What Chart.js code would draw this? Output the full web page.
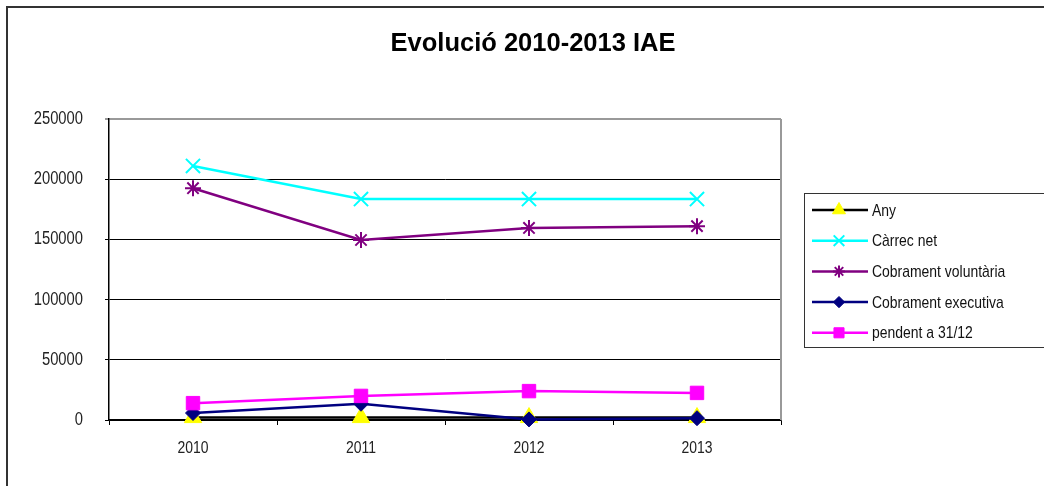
<!DOCTYPE html>
<html lang="ca">
<head>
<meta charset="UTF-8">
<title>Evolució 2010-2013 IAE</title>
<script src="https://cdn.jsdelivr.net/npm/chart.js"></script>
<style>
html, body { margin: 0; padding: 0; background: #fff; }
.wrap { position: relative; width: 1044px; height: 486px; overflow: hidden; }
canvas { display: block; }
</style>
</head>
<body>
<div class="wrap">
  <canvas id="grafic" width="1044" height="486"></canvas>
</div>
<script>
// dades llegides del gràfic
var anys = ["2010", "2011", "2012", "2013"];
var any = [2010, 2011, 2012, 2013];
var carrecNet = [211000, 183500, 183500, 183500];
var cobramentVoluntaria = [192500, 149500, 159500, 161000];
var cobramentExecutiva = [5800, 13500, 500, 1500];
var pendent = [14000, 20000, 24000, 22500];
var marquesY = [0, 50000, 100000, 150000, 200000, 250000];

var lletra = "'Liberation Sans', Arial, sans-serif";
var estret = 0.82; // Arial Narrow ~ Arial al 82% d'amplada

// les etiquetes dels eixos en lletra estreta: escala horitzontal a cada etiqueta
function etiquetesEstretes(scale) {
  if (scale._estreta) return;
  scale._estreta = true;
  var orig = scale.drawLabels;
  scale.drawLabels = function(area) {
    var c = this.ctx;
    var rot = c.rotate;
    c.rotate = function(a) { rot.call(c, a); c.scale(estret, 1); };
    try { orig.call(this, area); } finally { c.rotate = rot; }
  };
}

// títol, vores i llegenda a mà (com el gràfic d'Excel)
var decoracio = {
  id: "decoracio",
  afterDraw: function(chart) {
    var ctx = chart.ctx;
    var area = chart.chartArea;
    ctx.save();

    // vora exterior
    ctx.strokeStyle = "#333";
    ctx.lineWidth = 2;
    ctx.strokeRect(7, 7, 1100, 600);

    // vora dreta de l'àrea de traçat
    ctx.strokeStyle = "#999";
    ctx.lineWidth = 2;
    ctx.beginPath();
    ctx.moveTo(area.right, area.top);
    ctx.lineTo(area.right, area.bottom);
    ctx.stroke();

    // títol
    ctx.fillStyle = "#000";
    ctx.font = "bold 25.5px " + lletra;
    ctx.textAlign = "center";
    ctx.textBaseline = "alphabetic";
    ctx.fillText("Evolució 2010-2013 IAE", 533, 51);

    // llegenda
    ctx.strokeStyle = "#333";
    ctx.lineWidth = 1;
    ctx.fillStyle = "#fff";
    ctx.fillRect(804.5, 193.5, 300, 154);
    ctx.strokeRect(804.5, 193.5, 300, 154);

    chart.data.datasets.forEach(function(ds, i) {
      var y = 210 + i * 30.7;
      ctx.strokeStyle = ds.borderColor;
      ctx.lineWidth = 2.5;
      ctx.beginPath();
      ctx.moveTo(812, y);
      ctx.lineTo(868, y);
      ctx.stroke();
      ctx.fillStyle = ds.pointBackgroundColor;
      ctx.strokeStyle = ds.pointBorderColor;
      ctx.lineWidth = ds.pointBorderWidth;
      Chart.helpers.drawPoint(ctx, {
        pointStyle: ds.pointStyle,
        radius: ds.pointRadius * 0.75,
        borderWidth: ds.pointBorderWidth,
        rotation: 0
      }, 839, y);

      ctx.save();
      ctx.translate(872, y + 1);
      ctx.scale(estret, 1);
      ctx.font = "17px " + lletra;
      ctx.textAlign = "left";
      ctx.textBaseline = "middle";
      ctx.fillStyle = "#111";
      ctx.fillText(ds.label, 0, 0);
      ctx.restore();
    });

    ctx.restore();
  }
};

var ctx = document.getElementById("grafic").getContext("2d");
var grafic = new Chart(ctx, {
  type: "line",
  data: {
    labels: anys,
    datasets: [{
      label: "Any",
      data: any,
      borderColor: "#000",
      borderWidth: 2.5,
      pointStyle: "triangle",
      pointRadius: 10,
      pointBackgroundColor: "#ffff00",
      pointBorderColor: "#ffff00",
      pointBorderWidth: 1,
      order: 4
    }, {
      label: "Càrrec net",
      data: carrecNet,
      borderColor: "#00ffff",
      borderWidth: 2.5,
      pointStyle: "crossRot",
      pointRadius: 10,
      pointBackgroundColor: "#00ffff",
      pointBorderColor: "#00ffff",
      pointBorderWidth: 2,
      order: 3
    }, {
      label: "Cobrament voluntària",
      data: cobramentVoluntaria,
      borderColor: "#800080",
      borderWidth: 2.5,
      pointStyle: "star",
      pointRadius: 8,
      pointBackgroundColor: "#800080",
      pointBorderColor: "#800080",
      pointBorderWidth: 2,
      order: 2
    }, {
      label: "Cobrament executiva",
      data: cobramentExecutiva,
      borderColor: "#000080",
      borderWidth: 2.5,
      pointStyle: "rectRot",
      pointRadius: 7.5,
      pointBackgroundColor: "#000080",
      pointBorderColor: "#000080",
      pointBorderWidth: 1,
      order: 1
    }, {
      label: "pendent a 31/12",
      data: pendent,
      borderColor: "#ff00ff",
      borderWidth: 2.5,
      pointStyle: "rect",
      pointRadius: 9.5,
      pointBackgroundColor: "#ff00ff",
      pointBorderColor: "#ff00ff",
      pointBorderWidth: 1,
      order: 0
    }]
  },
  options: {
    responsive: false,
    animation: false,
    clip: false,
    elements: { line: { tension: 0 } },
    layout: { padding: { left: 0, top: 119, right: 263, bottom: 0 } },
    plugins: {
      legend: { display: false },
      title: { display: false },
      tooltip: { enabled: false }
    },
    scales: {
      x: {
        offset: true,
        afterFit: function(scale) { scale.height = 66; etiquetesEstretes(scale); },
        grid: {
          offset: true,
          drawOnChartArea: false,
          drawTicks: true,
          tickLength: 5,
          color: "#000",
          lineWidth: 1
        },
        border: { display: true, color: "#000", width: 1.5 },
        ticks: {
          padding: 13,
          color: "#222",
          font: { family: lletra, size: 17 }
        }
      },
      y: {
        min: 0,
        max: 250000,
        afterFit: function(scale) { scale.width = 109; etiquetesEstretes(scale); },
        afterBuildTicks: function(scale) {
          scale.ticks = marquesY.map(function(v) { return { value: v }; });
        },
        grid: {
          drawTicks: true,
          tickLength: 4,
          color: function(c) { return c.tick && c.tick.value === 250000 ? "#999" : "#000"; },
          lineWidth: function(c) { return c.tick && c.tick.value === 250000 ? 2 : 1; }
        },
        border: { display: true, color: "#000", width: 1.5 },
        ticks: {
          padding: 22,
          color: "#222",
          font: { family: lletra, size: 18 },
          callback: function(v) { return String(v); }
        }
      }
    }
  },
  plugins: [decoracio]
});
</script>
</body>
</html>
